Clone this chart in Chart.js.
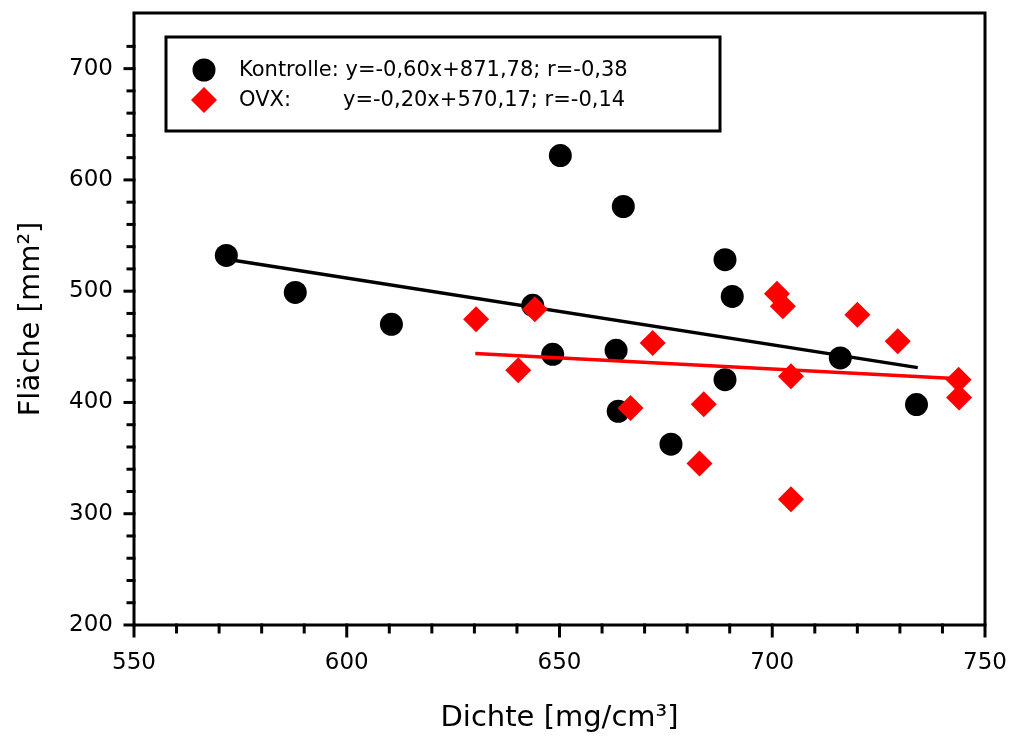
<!DOCTYPE html>
<html>
<head>
<meta charset="utf-8">
<script src="https://cdn.jsdelivr.net/npm/chart.js@4/dist/chart.umd.min.js"></script>
<style>
    html, body { margin: 0; padding: 0; background: #fff; }
    #wrap { width: 1011px; height: 736px; }
</style>
</head>
<body>
<div id="wrap"><canvas id="chart" width="1011" height="736"></canvas></div>
<script>
// ------------------------
// DATA
// ------------------------

const kontrolleX = [571.7, 587.9, 610.5, 643.7, 648.4, 650.2, 663.3, 663.8, 665.0, 676.2, 688.9, 690.6, 688.9, 716.0, 733.9];
const kontrolleY = [532.1, 498.9, 470.2, 487.3, 443.3, 621.9, 446.9, 392.1, 576.1, 362.5, 528.3, 495.3, 420.5, 440.0, 398.1];

const ovxX = [630.4, 640.3, 644.2, 666.7, 671.9, 682.9, 683.9, 701.1, 702.5, 704.4, 704.4, 720.0, 729.5, 743.8, 743.9];
const ovxY = [474.7, 428.9, 483.7, 395.1, 453.4, 345.2, 398.4, 497.8, 486.4, 423.5, 313.1, 478.9, 454.9, 420.5, 404.4];

// regression line end points
const kontrolleFitX = [572.6, 734.2];
const kontrolleFitY = [528.2, 431.3];
const ovxFitX = [630.2, 744.0];
const ovxFitY = [444.1, 421.4];

const legendNames = ["Kontrolle:", "OVX:"];
const legendFormulas = ["y=-0,60x+871,78; r=-0,38", "y=-0,20x+570,17; r=-0,14"];

const xTitle = "Dichte [mg/cm³]";
const yTitle = "Fläche [mm²]";

const FONT = "'DejaVu Sans', Verdana, sans-serif";

const toPoints = (xs, ys) => xs.map((x, i) => ({ x, y: ys[i] }));

// ------------------------
// FRAME + MINOR TICKS
// ------------------------

const framePlugin = {
    id: "frame",
    afterDraw(chart) {
        const ctx = chart.ctx;
        const a = chart.chartArea;
        const xs = chart.scales.x;
        const ys = chart.scales.y;

        ctx.save();
        ctx.strokeStyle = "#000";
        ctx.lineWidth = 3;
        ctx.lineCap = "square";

        xs.ticks.forEach(t => {
            if (t.value % 10 !== 0) return;
            const px = xs.getPixelForValue(t.value);
            const len = t.value % 50 === 0 ? 11 : 7;
            ctx.beginPath();
            ctx.moveTo(px, a.bottom);
            ctx.lineTo(px, a.bottom + len);
            ctx.stroke();
        });

        ys.ticks.forEach(t => {
            if (t.value % 20 !== 0) return;
            const py = ys.getPixelForValue(t.value);
            const len = t.value % 100 === 0 ? 9 : 6;
            ctx.beginPath();
            ctx.moveTo(a.left, py);
            ctx.lineTo(a.left - len, py);
            ctx.stroke();
        });

        ctx.lineCap = "butt";
        ctx.strokeRect(a.left, a.top, a.right - a.left, a.bottom - a.top);
        ctx.restore();
    }
};

// ------------------------
// LEGEND BOX
// ------------------------

const legendPlugin = {
    id: "legendBox",
    afterDraw(chart) {
        const ctx = chart.ctx;
        ctx.save();

        ctx.fillStyle = "#fff";
        ctx.fillRect(166, 37, 554, 94);
        ctx.strokeStyle = "#000";
        ctx.lineWidth = 3;
        ctx.strokeRect(166, 37, 554, 94);

        // markers
        ctx.fillStyle = "#000";
        ctx.beginPath();
        ctx.arc(204, 70, 11.5, 0, Math.PI * 2);
        ctx.fill();

        ctx.fillStyle = "#ff0000";
        ctx.beginPath();
        ctx.moveTo(204, 87);
        ctx.lineTo(217, 100);
        ctx.lineTo(204, 113);
        ctx.lineTo(191, 100);
        ctx.closePath();
        ctx.fill();

        ctx.fillStyle = "#000";
        ctx.font = "21px " + FONT;
        ctx.textBaseline = "middle";
        ctx.textAlign = "left";
        const nameW = ctx.measureText(legendNames[0] + " ").width;
        ctx.fillText(legendNames[0], 239, 71);
        ctx.fillText(legendFormulas[0], 239 + nameW, 71);
        ctx.fillText(legendNames[1], 239, 101);
        ctx.fillText(legendFormulas[1], 343, 101);

        ctx.restore();
    }
};

// ------------------------
// CHART
// ------------------------

new Chart(document.getElementById("chart"), {
    type: "scatter",
    data: {
        datasets: [
            {
                label: "Kontrolle",
                data: toPoints(kontrolleX, kontrolleY),
                pointStyle: "circle",
                pointRadius: 11.5,
                pointHoverRadius: 11.5,
                backgroundColor: "#000",
                borderColor: "#000",
                borderWidth: 0,
                order: 4
            },
            {
                label: "Kontrolle fit",
                data: toPoints(kontrolleFitX, kontrolleFitY),
                showLine: true,
                pointRadius: 0,
                borderColor: "#000",
                borderWidth: 3.5,
                order: 3
            },
            {
                label: "OVX",
                data: toPoints(ovxX, ovxY),
                pointStyle: "rectRot",
                pointRadius: 13,
                pointHoverRadius: 13,
                backgroundColor: "#ff0000",
                borderColor: "#ff0000",
                borderWidth: 0,
                order: 2
            },
            {
                label: "OVX fit",
                data: toPoints(ovxFitX, ovxFitY),
                showLine: true,
                pointRadius: 0,
                borderColor: "#ff0000",
                borderWidth: 3.5,
                order: 1
            }
        ]
    },
    options: {
        responsive: false,
        animation: false,
        devicePixelRatio: 1,
        layout: { padding: { top: 12, right: 26, left: 0, bottom: 0 } },
        plugins: {
            legend: { display: false },
            tooltip: { enabled: false }
        },
        scales: {
            x: {
                type: "linear",
                min: 550,
                max: 750,
                afterFit: s => {
                    s.height = 111;
                    s.paddingLeft = 0;
                    s.paddingRight = 0;
                },
                grid: { display: false, drawTicks: false },
                border: { display: false },
                ticks: {
                    stepSize: 10,
                    autoSkip: false,
                    maxRotation: 0,
                    padding: 24,
                    color: "#000",
                    font: { family: FONT, size: 23 },
                    callback: v => (v % 50 === 0 ? String(v) : "")
                },
                title: {
                    display: true,
                    text: xTitle,
                    color: "#000",
                    font: { family: FONT, size: 29 },
                    padding: { top: 0, bottom: 0 }
                }
            },
            y: {
                type: "linear",
                min: 200,
                max: 750,
                afterFit: s => {
                    s.width = 134;
                    s.paddingTop = 0;
                    s.paddingBottom = 0;
                },
                grid: { display: false, drawTicks: false },
                border: { display: false },
                ticks: {
                    stepSize: 20,
                    autoSkip: false,
                    padding: 21,
                    color: "#000",
                    font: { family: FONT, size: 23 },
                    callback: v => (v % 100 === 0 ? String(v) : "")
                },
                title: {
                    display: true,
                    text: yTitle,
                    color: "#000",
                    font: { family: FONT, size: 29 },
                    padding: { top: 14, bottom: 0 }
                }
            }
        }
    },
    plugins: [framePlugin, legendPlugin]
});
</script>
</body>
</html>
